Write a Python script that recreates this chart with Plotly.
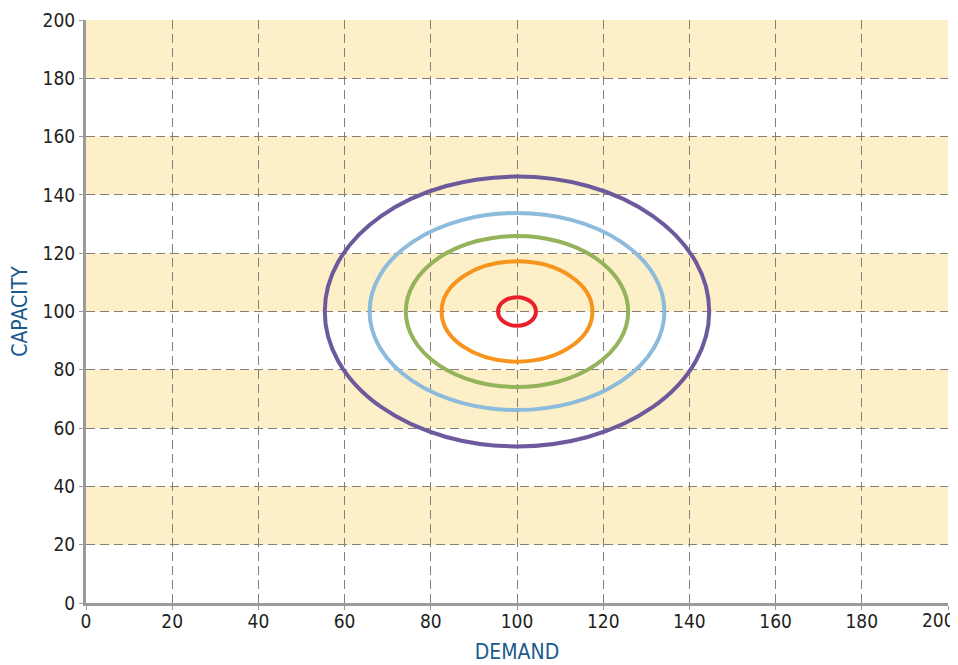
import plotly.graph_objects as go

# Data
center_x = 100
center_y = 100
ring_names = ["Red", "Orange", "Green", "Blue", "Purple"]
ring_rx = [4.4, 17.5, 25.8, 34.2, 44.6]
ring_ry = [4.9, 17.2, 25.9, 33.8, 46.3]
ring_colors = ["#e8202a", "#f7941d", "#94b35a", "#8dbbdb", "#6d5a9c"]
band_starts = [20, 60, 100, 140, 180]
band_height = 20
tick_vals = [0, 20, 40, 60, 80, 100, 120, 140, 160, 180, 200]
tick_text = [str(v) for v in tick_vals]

FONT = "Liberation Sans Narrow, DejaVu Sans Condensed, sans-serif"
TICKFONT = dict(family=FONT, size=19, color="#231f20")

fig = go.Figure()
# invisible trace to establish axes
fig.add_trace(go.Scatter(x=[0, 200], y=[0, 200], mode="markers",
                         marker=dict(opacity=0), showlegend=False, hoverinfo="skip"))

shapes = []
for b in band_starts:
    shapes.append(dict(type="rect", xref="x", yref="y", x0=0, x1=200, y0=b, y1=b + band_height,
                       fillcolor="#fdefc8", line=dict(width=0), layer="below"))
for rx, ry, c in zip(ring_rx, ring_ry, ring_colors):
    shapes.append(dict(type="circle", xref="x", yref="y",
                       x0=center_x - rx, x1=center_x + rx, y0=center_y - ry, y1=center_y + ry,
                       line=dict(color=c, width=4), layer="above"))

axis_common = dict(
    range=[0, 200], tickvals=tick_vals,
    showgrid=True, gridcolor="#857f78", gridwidth=1, griddash="9px,5px",
    showline=True, linecolor="#9b9b9b", linewidth=3,
    ticks="outside", ticklen=4, tickcolor="#9b9b9b", tickwidth=1,
    tickfont=TICKFONT,
    zeroline=False, layer="below traces", fixedrange=True,
    automargin=False, ticklabeloverflow="allow",
)

# last x label is right-aligned so it stays inside the page
x_ticktext = tick_text[:-1] + [""]

fig.update_layout(
    width=950, height=657,
    margin=dict(l=78, r=10, t=12, b=62),
    paper_bgcolor="white", plot_bgcolor="rgba(0,0,0,0)",
    shapes=shapes, showlegend=False,
    xaxis=dict(**axis_common, ticktext=x_ticktext, ticklabelstandoff=-5,
               title=dict(text="DEMAND", font=dict(family=FONT, size=21, color="#1a5a8e"), standoff=14)),
    yaxis=dict(**axis_common, ticktext=tick_text,
               title=dict(text="CAPACITY", font=dict(family=FONT, size=21, color="#1a5a8e"), standoff=14)),
    annotations=[dict(text=tick_text[-1], x=tick_vals[-1], xref="x", y=0, yref="paper",
                      xanchor="right", yanchor="top", yshift=-4, xshift=9, showarrow=False,
                      font=TICKFONT)],
)

fig.write_html("out.html")
